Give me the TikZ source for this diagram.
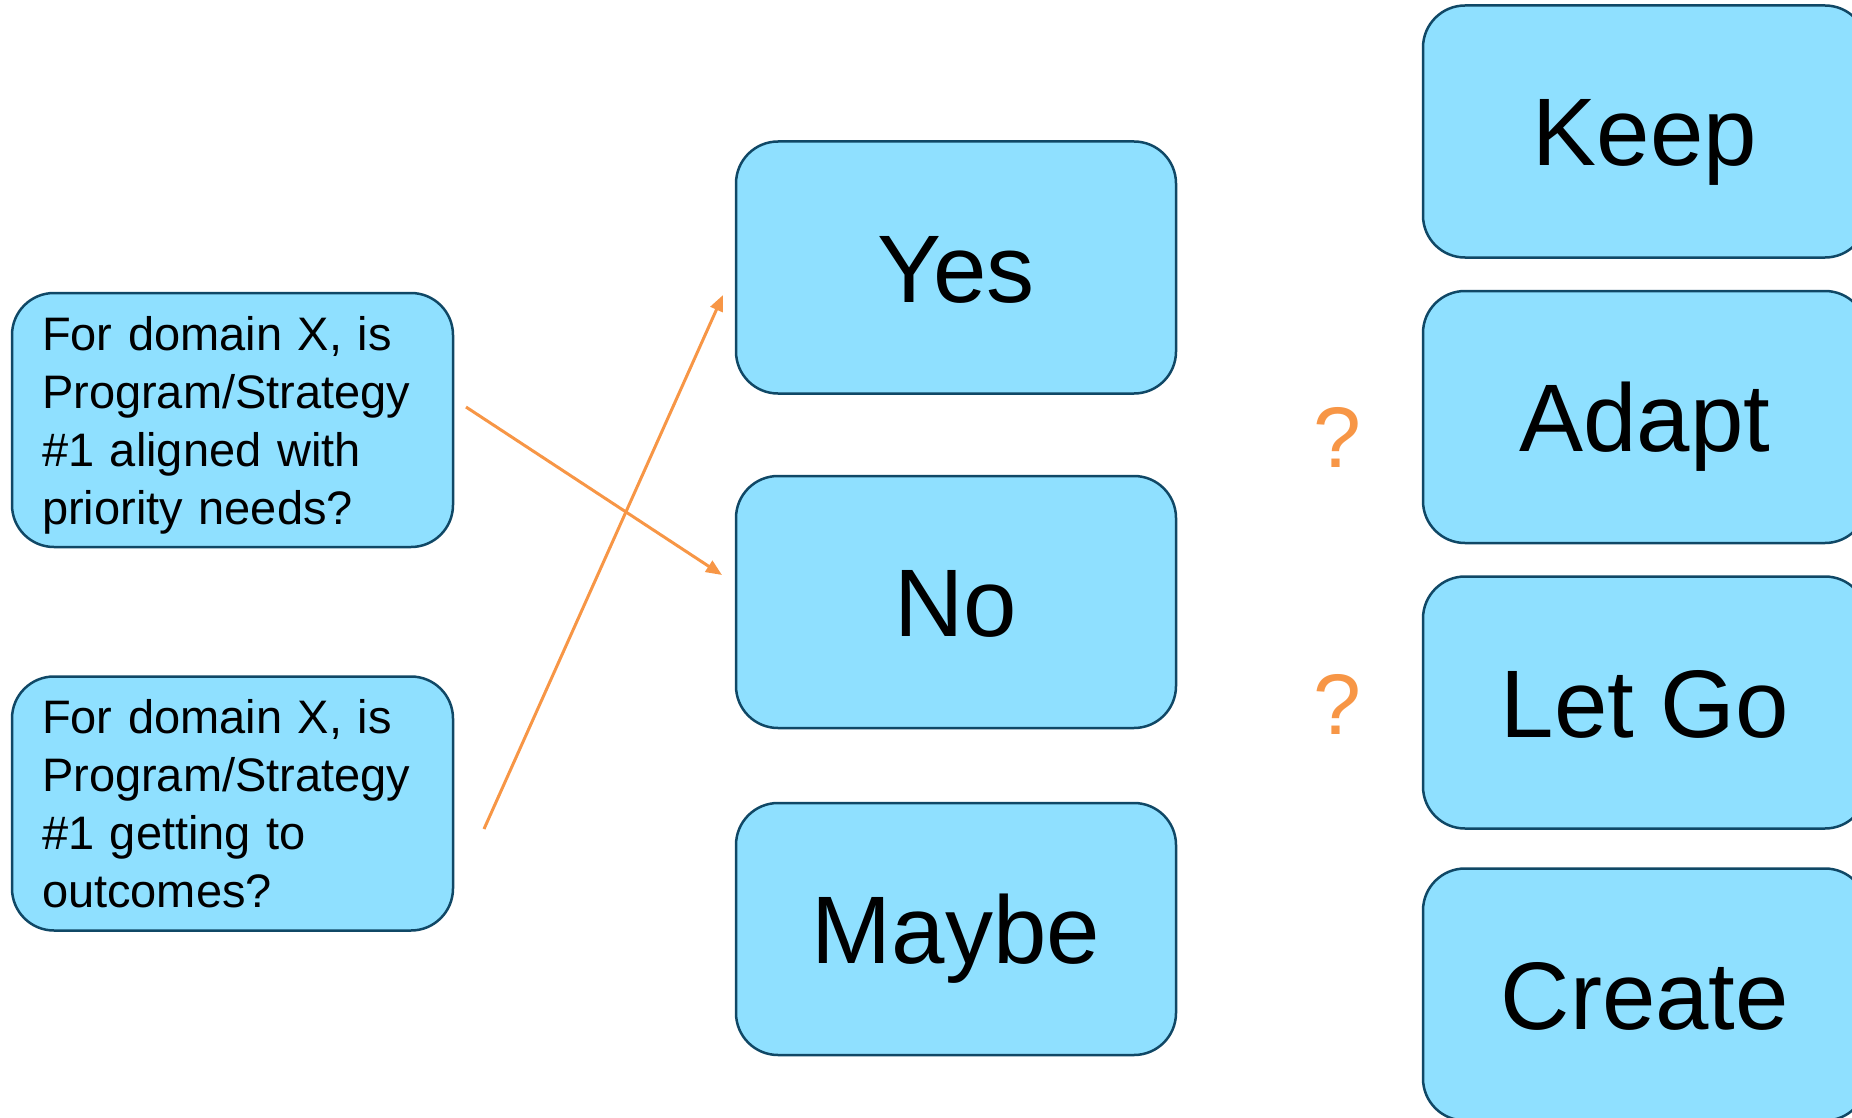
\documentclass[tikz,border=0pt]{standalone}
\usepackage{fontspec}
\setmainfont{Liberation Sans}
\usetikzlibrary{arrows.meta}
\definecolor{boxfill}{RGB}{143,224,255}
\definecolor{boxline}{RGB}{16,72,102}
\definecolor{arrorange}{RGB}{247,150,70}
\tikzset{
  basebox/.style={draw=boxline, fill=boxfill, line width=2.5pt, rounded corners=42pt, inner sep=0pt},
  qbox/.style={basebox, minimum width=441pt, minimum height=254pt, text width=381pt, align=left,
     font=\fontsize{47}{58}\selectfont},
  bigbox/.style={basebox, minimum width=440pt, minimum height=252pt, text height=69pt, text depth=0pt,
     font=\fontsize{96}{110}\selectfont},
  rbox/.style={bigbox, minimum width=444pt},
  conn/.style={draw=arrorange, line width=3pt, -{Triangle[length=16pt,width=13pt]}},
  qmark/.style={text=arrorange, font=\fontsize{86}{100}\selectfont, text height=62pt, text depth=0pt, inner sep=0pt}
}
\begin{document}
\begin{tikzpicture}[x=1pt,y=-1pt]
\useasboundingbox (0,0) rectangle (1852,1118);
\clip (0,0) rectangle (1852,1118);
% left question boxes
\node[qbox] (q1) at (232.5,420) {\rule{0pt}{44pt}For domain X, is\\Program/Strategy\\\#1 aligned with\\priority needs?};
\node[qbox] (q2) at (232.5,803.5) {\rule{0pt}{44pt}For domain X, is\\Program/Strategy\\\#1 getting to\\outcomes?\vphantom{p}};
% middle answers
\node[bigbox] (yes) at (956,267.5) {Yes};
\node[bigbox] (no) at (956,602) {No};
\node[bigbox] (maybe) at (956,929) {Maybe};
% right actions
\node[rbox] (keep) at (1645,131.5) {Keep};
\node[rbox] (adapt) at (1645,417) {Adapt};
\node[rbox] (letgo) at (1645,702.5) {Let Go};
\node[rbox] (create) at (1645,994.5) {Create};
% question marks
\node[qmark] (qm1) at (1337,436) {?};
\node[qmark] (qm2) at (1337,703) {?};
% connectors
\coordinate (a1s) at (466,407);
\coordinate (a1e) at (722,575);
\coordinate (a2s) at (484,829);
\coordinate (a2e) at (723,295);
\draw[conn] (a1s) -- (a1e);
\draw[conn] (a2s) -- (a2e);
\end{tikzpicture}
\end{document}
